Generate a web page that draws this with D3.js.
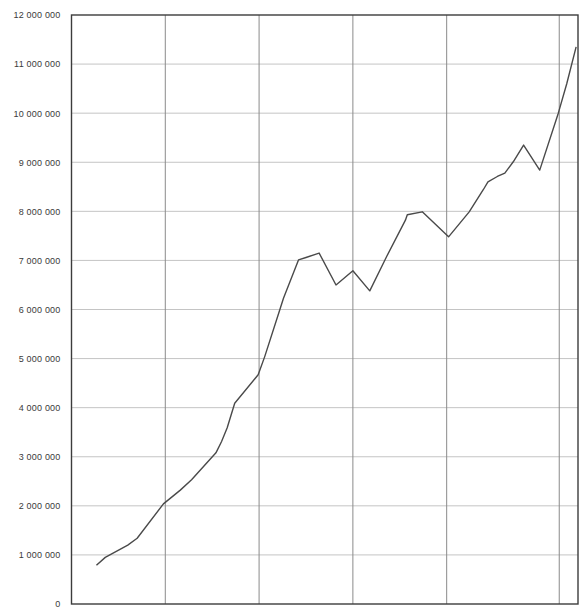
<!DOCTYPE html>
<html>
<head>
<meta charset="utf-8">
<script src="https://cdn.jsdelivr.net/npm/d3@7"></script>
<style>
  html, body { margin: 0; padding: 0; background: #fff; }
  svg { display: block; }
</style>
</head>
<body>
<svg id="chart" width="580" height="608"></svg>
<script>
// Data (x = period position along the axis, y = value)
const periods = [1.33, 1.8, 3.0, 3.5, 4.9, 5.8, 6.4, 7.7, 8.0, 8.3, 8.7, 9.95, 10.3, 11.1, 11.3, 12.1, 12.5, 13.2, 14.1, 15.0, 15.9, 16.8, 17.8, 17.9, 18.7, 20.1, 21.2, 21.95, 22.2, 22.7, 23.1, 23.55, 24.1, 24.96, 25.95, 26.4, 26.9];
const values  = [790000, 950000, 1200000, 1340000, 2040000, 2320000, 2530000, 3080000, 3310000, 3590000, 4090000, 4670000, 5040000, 5990000, 6230000, 7010000, 7060000, 7150000, 6500000, 6790000, 6380000, 7080000, 7820000, 7930000, 7990000, 7480000, 7990000, 8440000, 8600000, 8710000, 8780000, 9010000, 9350000, 8840000, 10000000, 10600000, 11350000];
const yTicks = [0, 1000000, 2000000, 3000000, 4000000, 5000000, 6000000, 7000000, 8000000, 9000000, 10000000, 11000000, 12000000];
const yTickLabels = ["0", "1 000 000", "2 000 000", "3 000 000", "4 000 000", "5 000 000", "6 000 000", "7 000 000", "8 000 000", "9 000 000", "10 000 000", "11 000 000", "12 000 000"];
const xGrid = [5, 10, 15, 20, 26];
const xDomain = [0, 27];

const svg = d3.select("#chart");
const mLeft = 71.5, mRight = 578, mTop = 15, mBottom = 604;

const x = d3.scaleLinear().domain(xDomain).range([mLeft, mRight]);
const y = d3.scaleLinear().domain([0, 12000000]).range([mBottom, mTop]);

// horizontal grid
svg.append("g")
  .selectAll("line")
  .data(yTicks.slice(1, -1))
  .join("line")
  .attr("x1", mLeft).attr("x2", mRight)
  .attr("y1", d => y(d)).attr("y2", d => y(d))
  .attr("stroke", "#c4c4c4").attr("stroke-width", 1);

// vertical grid
svg.append("g")
  .selectAll("line")
  .data(xGrid)
  .join("line")
  .attr("x1", d => x(d)).attr("x2", d => x(d))
  .attr("y1", mTop).attr("y2", mBottom)
  .attr("stroke", "#8a8a8a").attr("stroke-width", 1);

// y axis labels
const yAxis = d3.axisLeft(y)
  .tickValues(yTicks)
  .tickSize(0)
  .tickPadding(11)
  .tickFormat((d, i) => yTickLabels[i]);
const gy = svg.append("g").attr("transform", `translate(${mLeft},0)`).call(yAxis);
gy.select(".domain").remove();
gy.selectAll("text")
  .attr("font-family", "Liberation Sans, Arial, sans-serif")
  .attr("font-size", 9)
  .attr("letter-spacing", "0.2px")
  .attr("fill", "#3a3a3a");

// frame
svg.append("rect")
  .attr("x", mLeft).attr("y", mTop)
  .attr("width", mRight - mLeft).attr("height", mBottom - mTop)
  .attr("fill", "none").attr("stroke", "#3c3c3c").attr("stroke-width", 1.4);

// line
const line = d3.line().x((d, i) => x(periods[i])).y(d => y(d));
svg.append("path")
  .datum(values)
  .attr("d", line)
  .attr("fill", "none")
  .attr("stroke", "#4a4a4a")
  .attr("stroke-width", 1.4)
  .attr("stroke-linejoin", "round");
</script>
</body>
</html>
